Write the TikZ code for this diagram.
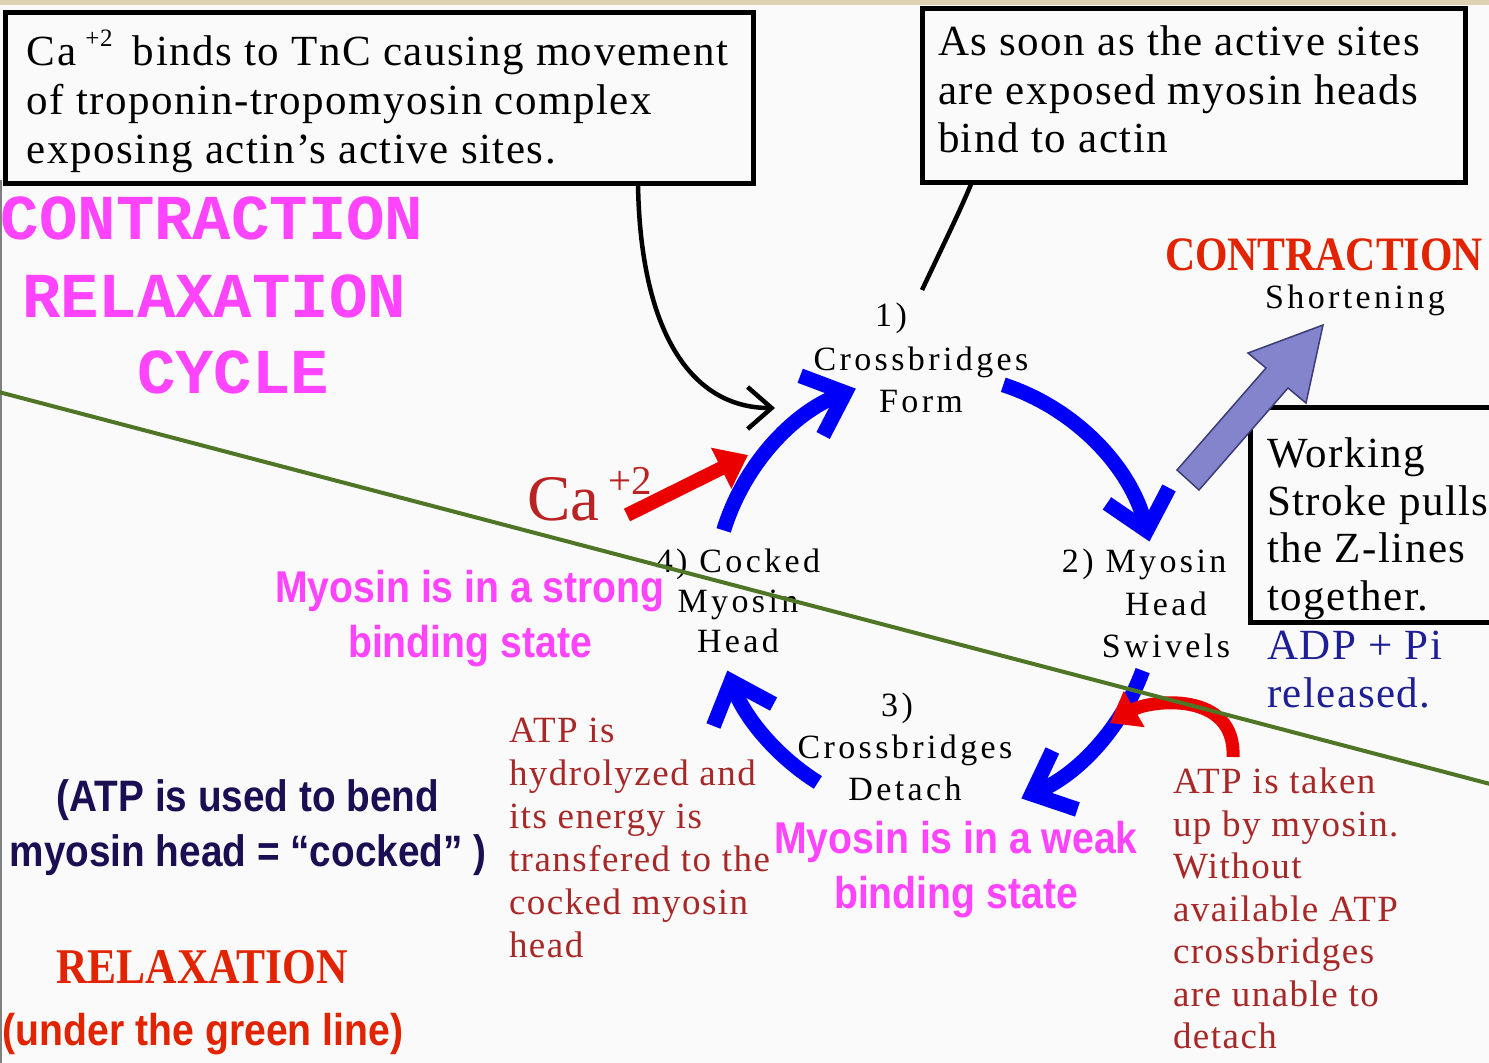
\documentclass[tikz,border=0pt]{standalone}
\usepackage{fontspec}
\setmainfont{Liberation Serif}
\newfontfamily\boxfont[LetterSpace=3.5]{Liberation Serif}
\newfontfamily\stepfont[LetterSpace=10]{Liberation Serif}
\newfontfamily\notefont[LetterSpace=4]{Liberation Serif}
\newfontfamily\condserif[FakeStretch=0.87]{Liberation Serif}
\newfontfamily\narrowsans[FakeStretch=0.88]{Liberation Sans}
\newfontfamily\typewriter{Liberation Mono}
\usetikzlibrary{arrows.meta, positioning, calc}

\definecolor{pagebg}{RGB}{250,250,250}
\definecolor{topband}{RGB}{222,210,178}
\definecolor{titlepink}{RGB}{255,68,255}
\definecolor{phasered}{RGB}{225,35,0}
\definecolor{noteRed}{RGB}{168,40,40}
\definecolor{caRed}{RGB}{185,35,35}
\definecolor{navytext}{RGB}{28,14,82}
\definecolor{adpblue}{RGB}{30,30,150}
\definecolor{linegreen}{RGB}{78,118,38}
\definecolor{cycleblue}{RGB}{0,0,250}
\definecolor{arrowred}{RGB}{235,0,0}
\definecolor{strokefill}{RGB}{132,132,205}
\definecolor{strokeedge}{RGB}{60,60,120}

\begin{document}
\begin{tikzpicture}[x=1pt, y=-1pt,
    every node/.style={inner sep=0pt, outer sep=0pt},
    frame/.style={rectangle, draw=black, line width=5pt, anchor=north west},
    boxtext/.style={font=\boxfont\fontsize{43}{49}\selectfont, align=left, anchor=north west},
    steplabel/.style={font=\stepfont\fontsize{34}{42}\selectfont, align=center},
    note/.style={font=\notefont\fontsize{37}{43}\selectfont, text=noteRed, align=left, anchor=north west},
    title/.style={font=\typewriter\bfseries\fontsize{64}{78}\selectfont, text=titlepink, anchor=base west},
    phase/.style={font=\condserif\bfseries\fontsize{48}{48}\selectfont, text=phasered},
    bindnote/.style={font=\narrowsans\bfseries\fontsize{44.5}{55}\selectfont, text=titlepink, align=center, anchor=north},
    cycarrow/.style={draw=cycleblue, line width=15pt, -{Straight Barb[length=36pt, width=64pt]}},
    redarrow/.style={draw=arrowred, line width=14pt, -{Triangle[length=30pt, width=44pt]}},
    callout/.style={draw=black, line width=4.5pt}
]
    \useasboundingbox (0,0) rectangle (1489,1063);
    % Page
    \fill[pagebg] (0,0) rectangle (1489,1063);
    \fill[topband] (0,0) rectangle (1489,5);
    \draw[gray, line width=1.5pt] (1,180) -- (1,1063);

    % Explanation boxes
    \node[frame, minimum width=748, minimum height=171] (tncframe) at (5,12) {};
    \node[boxtext] (tnc) at (27,36) {Ca\hspace{9pt}\smash{\raisebox{19pt}{\fontsize{25}{25}\selectfont +2}}\hspace{8pt} binds to TnC causing movement\\of troponin-tropomyosin complex\\exposing actin’s active sites.};
    \node[frame, minimum width=543, minimum height=174] (actinframe) at (922,8) {};
    \node[boxtext, font=\boxfont\fontsize{43}{48.5}\selectfont] (actin) at (938,26) {As soon as the active sites\\are exposed myosin heads\\bind to actin};
    \node[frame, minimum width=250, minimum height=215] (strokeframe) at (1250,407) {};
    \node[boxtext, font=\boxfont\fontsize{43}{47.5}\selectfont] (stroke) at (1267,438) {Working\\Stroke pulls\\the Z-lines\\together.};
    \node[boxtext, text=adpblue, font=\boxfont\fontsize{43}{48}\selectfont] (adp) at (1267,631) {ADP + Pi\\released.};

    % Titles
    \node[title] (ttl1) at (1,239) {CONTRACTION};
    \node[title] (ttl2) at (22,317) {RELAXATION};
    \node[title] (ttl3) at (137,393) {CYCLE};
    \node[phase, anchor=base west] (contraction) at (1165,270) {CONTRACTION};
    \node[steplabel, anchor=base] (shortening) at (1355,308) {Shortening};
    \node[phase, anchor=base, font=\condserif\bfseries\fontsize{50}{50}\selectfont] (relaxation) at (202,983) {RELAXATION};
    \node[font=\narrowsans\bfseries\fontsize{44.5}{55}\selectfont, text=phasered, anchor=base] (greennote) at (203,1045) {(under the green line)};

    % Cycle steps
    \coordinate (cyc) at (935,595);
    \node[steplabel, anchor=base] (s1num) at (891,326) {1)};
    \node[steplabel, anchor=north] (s1) at (921,347) {Crossbridges\\Form};
    \node[steplabel, anchor=north, font=\stepfont\fontsize{34}{42.5}\selectfont] (s2) at (1166,549) {\llap{2) }Myosin\\Head\\Swivels};
    \node[steplabel, anchor=base] (s3num) at (897,716) {3)};
    \node[steplabel, anchor=north] (s3) at (905,735) {Crossbridges\\Detach};
    \node[steplabel, anchor=north, font=\stepfont\fontsize{34}{40}\selectfont] (s4) at (738,549) {4) Cocked\\Myosin\\Head};

    % Notes
    \node[note] (hydrolysis) at (509,718) {ATP is\\hydrolyzed and\\its energy is\\transfered to the\\cocked myosin\\head};
    \node[note, font=\notefont\fontsize{37}{42.5}\selectfont] (uptake) at (1173,768) {ATP is taken\\up by myosin.\\Without\\available ATP\\crossbridges\\are unable to\\detach};
    \node[bindnote] (strong) at (470,570) {Myosin is in a strong\\binding state};
    \node[bindnote] (weak) at (956,821) {Myosin is in a weak\\binding state};
    \node[font=\narrowsans\bfseries\fontsize{44}{55}\selectfont, text=navytext, align=center, anchor=north] (cocking) at (248,780) {(ATP is used to bend\\myosin head = “cocked” )};
    \node[font=\fontsize{65}{65}\selectfont, text=caRed, anchor=base west] (ca) at (527,520) {Ca\hspace{9pt}\raisebox{26pt}{\fontsize{41}{41}\selectfont +2}};

    % Cycle arrows
    \draw[cycarrow] ([shift={(197:221)}]cyc) arc[start angle=197, end angle=249, radius=221];
    \draw[cycarrow] ([shift={(288:221)}]cyc) arc[start angle=288, end angle=346, radius=221];
    \draw[cycarrow] ([shift={(20:221)}]cyc) arc[start angle=20, end angle=67, radius=221];
    \draw[cycarrow] ([shift={(122:221)}]cyc) arc[start angle=122, end angle=160, radius=221];

    % Calcium and ATP arrows
    \coordinate (catail) at (627,515);
    \coordinate (catip) at (748,455);
    \draw[redarrow] (catail) -- (catip);
    \coordinate (atpfrom) at (1233,757);
    \coordinate (atpto) at (1110,723);
    \draw[redarrow, line width=13pt, -{Triangle[length=28pt, width=40pt]}] (atpfrom) .. controls (1236,690) and (1150,700) .. (atpto);

    % Callout lines
    \coordinate (tnctip) at (775,408);
    \draw[callout, -{Straight Barb[length=24pt, width=42pt]}] ([xshift=633pt]tncframe.south west) .. controls (640,330) and (690,408) .. (tnctip);
    \coordinate (actinfoot) at (922,290);
    \draw[callout] ([xshift=50pt]actinframe.south west) .. controls (960,210) .. (actinfoot);

    % Shortening arrow
    \filldraw[fill=strokefill, draw=strokeedge, line width=1.5pt] (1177,470) -- (1266,368) -- (1248,353) -- (1323,325) -- (1306,403) -- (1288,388) -- (1199,490) -- cycle;

    % Green divider
    \draw[linegreen, line width=4pt] (-5,391) -- (1494,785);
\end{tikzpicture}
\end{document}
